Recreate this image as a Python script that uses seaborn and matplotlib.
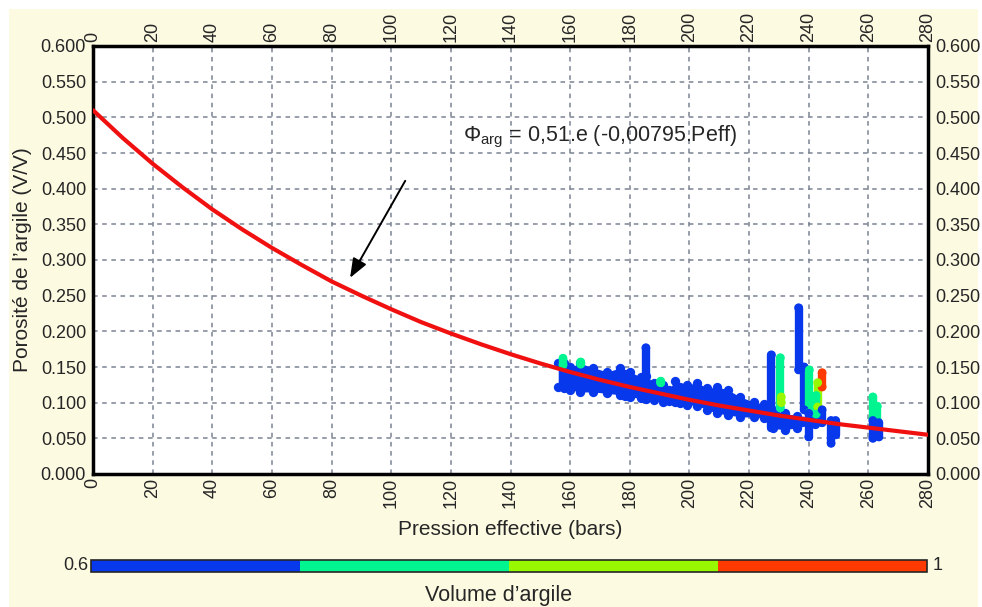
import numpy as np
import pandas as pd
import matplotlib
matplotlib.use("Agg")
import matplotlib.pyplot as plt
import seaborn as sns
from matplotlib.colors import ListedColormap, BoundaryNorm
from matplotlib.cm import ScalarMappable
from matplotlib.patches import Rectangle

sns.set_style("white")
plt.rcParams['font.family'] = ['Liberation Sans', 'DejaVu Sans']
plt.rcParams['mathtext.fontset'] = 'custom'
plt.rcParams['mathtext.rm'] = 'Liberation Sans'
plt.rcParams['mathtext.it'] = 'Liberation Sans'

# Courbe de compaction
peff_curve = [0, 10, 20, 30, 40, 50, 60, 70, 80, 90, 100, 110, 120, 130, 140,
              150, 160, 170, 180, 190, 200, 210, 220, 230, 240, 250, 260, 270, 280]
phi_curve = [0.510, 0.471, 0.435, 0.402, 0.371, 0.343, 0.317, 0.293, 0.270, 0.250,
             0.231, 0.213, 0.197, 0.182, 0.168, 0.155, 0.143, 0.132, 0.122, 0.113,
             0.104, 0.096, 0.089, 0.082, 0.076, 0.070, 0.065, 0.060, 0.055]

# Nuage principal (enveloppe haute / basse)
band_x = [156.0, 158.0, 160.0, 163.4, 167.8, 172.5, 176.8, 178.5, 180.2, 183.6,
          185.6, 188.0, 191.3, 193.0, 195.3, 197.0, 199.3, 202.7, 206.0, 209.4,
          212.8, 217.1, 221.5, 225.0, 228.0, 232.0, 236.0, 240.0, 242.0]
band_top = [0.155, 0.156, 0.150, 0.155, 0.149, 0.143, 0.149, 0.140, 0.143, 0.136,
            0.137, 0.128, 0.125, 0.118, 0.131, 0.122, 0.125, 0.128, 0.120, 0.122,
            0.118, 0.108, 0.101, 0.098, 0.090, 0.085, 0.082, 0.080, 0.078]
band_bot = [0.122, 0.120, 0.118, 0.115, 0.115, 0.113, 0.111, 0.110, 0.108, 0.106,
            0.105, 0.104, 0.101, 0.102, 0.101, 0.099, 0.097, 0.096, 0.090, 0.085,
            0.083, 0.080, 0.080, 0.078, 0.064, 0.062, 0.065, 0.068, 0.070]

# Colonnes de points (pression, porosité min, porosité max, volume d'argile)
col_x = [185.4, 227.5, 230.5, 236.6, 238.5, 240.0, 240.2, 243.0, 242.5, 244.5,
         244.5, 247.5, 249.0, 261.5, 263.0, 261.5, 263.5, 157.6, 163.5, 190.3, 230.8]
col_lo = [0.105, 0.065, 0.093, 0.146, 0.090, 0.052, 0.086, 0.094, 0.084, 0.122,
          0.072, 0.043, 0.055, 0.078, 0.075, 0.050, 0.052, 0.153, 0.154, 0.128, 0.100]
col_hi = [0.177, 0.167, 0.163, 0.233, 0.150, 0.085, 0.146, 0.128, 0.110, 0.142,
          0.090, 0.075, 0.075, 0.108, 0.095, 0.075, 0.072, 0.162, 0.157, 0.130, 0.108]
col_vcl = [0.65, 0.65, 0.75, 0.65, 0.65, 0.65, 0.75, 0.85, 0.75, 0.95,
           0.65, 0.65, 0.65, 0.75, 0.75, 0.65, 0.65, 0.75, 0.75, 0.75, 0.85]

x_ticks = list(range(0, 281, 20))
y_ticks = [0.0, 0.05, 0.1, 0.15, 0.2, 0.25, 0.3, 0.35, 0.4, 0.45, 0.5, 0.55, 0.6]

vcl_bounds = [0.6, 0.7, 0.8, 0.9, 1.0]
vcl_colors = ['#0838ec', '#00f590', '#98f800', '#ff3a00']
cmap = ListedColormap(vcl_colors)
norm = BoundaryNorm(vcl_bounds, cmap.N)
palette = {0.65: vcl_colors[0], 0.75: vcl_colors[1], 0.85: vcl_colors[2], 0.95: vcl_colors[3]}

cream = '#fcfae1'

fig = plt.figure(figsize=(9.82, 6.07), dpi=100)
fig.patch.set_facecolor('white')
fig.add_artist(Rectangle((9 / 982, 0), 969 / 982, 598 / 607, transform=fig.transFigure,
                         facecolor=cream, edgecolor='none', zorder=-10))

ax = fig.add_axes([93 / 982, 133 / 607, 835 / 982, 428 / 607])
ax.set_facecolor('white')

# nuage principal
ax.fill_between(band_x, band_bot, band_top, color=vcl_colors[0], lw=0, zorder=2)
edges = pd.DataFrame({'x': band_x + band_x, 'y': band_top + band_bot})
sns.scatterplot(data=edges, x='x', y='y', color=vcl_colors[0], s=45, linewidth=0,
                ax=ax, zorder=2, legend=False)

# colonnes
cols = pd.DataFrame({'x': col_x, 'lo': col_lo, 'hi': col_hi, 'vcl': col_vcl})
ax.vlines(cols['x'], cols['lo'], cols['hi'], colors=[palette[v] for v in cols['vcl']],
          lw=6, capstyle='round', zorder=3)
ends = pd.concat([cols[['x', 'lo', 'vcl']].rename(columns={'lo': 'y'}),
                  cols[['x', 'hi', 'vcl']].rename(columns={'hi': 'y'})])
sns.scatterplot(data=ends, x='x', y='y', hue='vcl', palette=palette, s=40,
                linewidth=0, ax=ax, zorder=3, legend=False)

# courbe
sns.lineplot(x=peff_curve, y=phi_curve, color='#f01010', lw=3, ax=ax, zorder=4)

ax.set_xlim(0, 280)
ax.set_ylim(0, 0.6)
ax.set_xticks(x_ticks)
ax.set_yticks(y_ticks)
ax.set_yticklabels([f'{v:.3f}' for v in y_ticks])
ax.tick_params(axis='both', length=0, labelsize=13, top=True, right=True,
               labeltop=True, labelright=True)
ax.tick_params(axis='x', labelrotation=90, pad=3)
ax.tick_params(axis='y', pad=5)
ax.grid(True, color='#7c8492', ls=(0, (3, 3)), lw=1.1)
for sp in ax.spines.values():
    sp.set_visible(True)
    sp.set_color('black')
    sp.set_linewidth(2.5)
ax.set_xlabel('Pression effective (bars)', fontsize=15, labelpad=8)
ax.set_ylabel('Porosité de l’argile (V/V)', fontsize=15, labelpad=6)

ax.text(124, 0.472, r'$\Phi_{\mathrm{arg}}$ = 0,51.e (-0,00795.Peff)', fontsize=15.5,
        va='center', ha='left', zorder=5)
ax.annotate('', xy=(86.2, 0.275), xytext=(104.7, 0.411),
            arrowprops=dict(arrowstyle='-|>,head_length=0.9,head_width=0.35',
                            mutation_scale=13, color='black', lw=1.4,
                            shrinkA=0, shrinkB=0))

# barre de couleur
cax = fig.add_axes([91 / 982, 35 / 607, 836 / 982, 12 / 607])
cb = fig.colorbar(ScalarMappable(norm=norm, cmap=cmap), cax=cax, orientation='horizontal')
cb.set_ticks([])
cb.minorticks_off()
cax.tick_params(which='both', length=0)
cb.outline.set_linewidth(1.2)
fig.text(88 / 982, 41 / 607, '0.6', ha='right', va='center', fontsize=13)
fig.text(933 / 982, 41 / 607, '1', ha='left', va='center', fontsize=13)
fig.text(499 / 982, 11 / 607, 'Volume d’argile', ha='center', va='center', fontsize=15.5)

fig.savefig('out.png', dpi=100, facecolor=fig.get_facecolor())
